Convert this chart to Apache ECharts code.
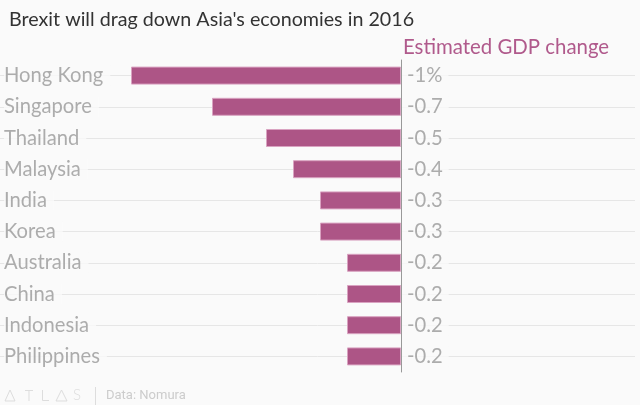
<!DOCTYPE html>
<html><head><meta charset="utf-8">
<script src="https://cdn.jsdelivr.net/npm/echarts@6/dist/echarts.min.js"></script>
<style>html,body{margin:0;padding:0;background:#fafafa}#c{width:640px;height:405px}</style>
</head><body><div id="c"></div>
<script>
const categories = ['Hong Kong','Singapore','Thailand','Malaysia','India','Korea','Australia','China','Indonesia','Philippines'];
const values = [-1, -0.7, -0.5, -0.4, -0.3, -0.3, -0.2, -0.2, -0.2, -0.2];
const valueLabels = ['-1%','-0.7','-0.5','-0.4','-0.3','-0.3','-0.2','-0.2','-0.2','-0.2'];

const FONT = 'Lato';
const BG = '#fafafa';
const XMIN = -401/270, XMAX = 234/270;
const chart = echarts.init(document.getElementById('c'), null, {renderer:'canvas'});
chart.setOption({
  backgroundColor: BG,
  animation: false,
  title: [
    {text: "Brexit will drag down Asia's economies in 2016", left: 4, top: 5,
     textStyle: {fontFamily: FONT, fontSize: 19.7, fontWeight: 'normal', color: '#333'}},
    {text: 'Estimated GDP change', left: 398, top: 32,
     textStyle: {fontFamily: FONT, fontSize: 20.4, fontWeight: 'normal', color: '#b05a8c'}}
  ],
  grid: {left: 0, right: 5, top: 60, bottom: 33},
  xAxis: {type: 'value', min: XMIN, max: XMAX, show: false},
  yAxis: {type: 'category', data: categories, inverse: true, position: 'left', z: 12,
     axisLine: {show: true, onZero: true, lineStyle: {color: '#999', width: 1}},
     axisTick: {show: false}, splitLine: {show: false}, axisLabel: {show: false}},
  series: [
    {type: 'scatter', z: 10, silent: true, symbolSize: 0,
     data: categories.map(c => [XMIN, c]),
     label: {show: true, position: 'right', distance: 4, formatter: p => p.value[1],
       fontFamily: FONT, fontSize: 20.2, color: '#999', backgroundColor: BG, padding: [0, 7, 0, 0]},
     markLine: {silent: true, symbol: 'none', label: {show: false}, z: 1,
       lineStyle: {color: '#e6e6e6', width: 1, type: 'solid'},
       data: categories.map(c => [{coord: [XMIN, c]}, {coord: [XMAX, c]}])}},
    {type: 'bar', data: values, z: 8, barWidth: 18,
     itemStyle: {color: '#ad5586', borderColor: '#d9a3c1', borderWidth: 1}},
    {type: 'scatter', z: 10, silent: true, symbolSize: 0,
     data: valueLabels.map((v, i) => [0, categories[i]]),
     label: {show: true, position: 'right', distance: 1,
       formatter: p => valueLabels[p.dataIndex],
       fontFamily: FONT, fontSize: 20.2, color: '#999', backgroundColor: BG, padding: [0, 6, 0, 5]}}
  ],
  graphic: [
    {type: 'polygon', shape: {points: [[5,401],[10,390],[15,401]]}, style: {fill: 'none', stroke: '#ddd', lineWidth: 1}},
    {type: 'polyline', shape: {points: [[25,390.5],[33,390.5]]}, style: {stroke: '#ddd', lineWidth: 1}},
    {type: 'polyline', shape: {points: [[29,390.5],[29,401]]}, style: {stroke: '#ddd', lineWidth: 1}},
    {type: 'polyline', shape: {points: [[42.5,390],[42.5,400.5],[49,400.5]]}, style: {fill: 'none', stroke: '#ddd', lineWidth: 1}},
    {type: 'polygon', shape: {points: [[56,401],[61.5,390],[67,401]]}, style: {fill: 'none', stroke: '#ddd', lineWidth: 1}},
    {type: 'text', left: 73, top: 388, style: {text: 'S', fontFamily: FONT, fontSize: 15, fill: '#ddd', fontWeight: 300}},
    {type: 'polyline', shape: {points: [[95.5,387],[95.5,405]]}, style: {stroke: '#ddd', lineWidth: 1}},
    {type: 'text', left: 106, top: 389, style: {text: 'Data: Nomura', fontFamily: 'Roboto', fontSize: 13, fill: '#ccc'}}
  ]
});
</script></body></html>
